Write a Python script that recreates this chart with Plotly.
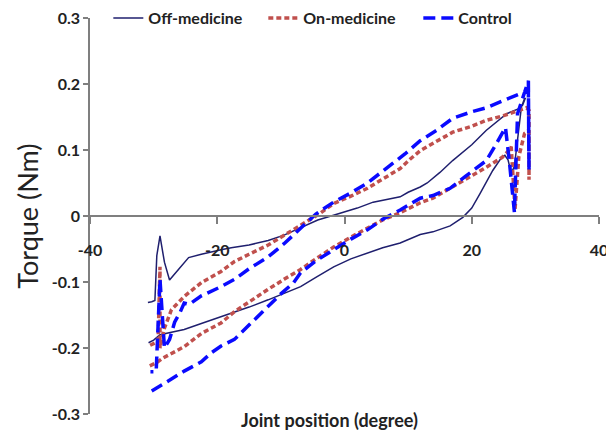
import plotly.graph_objects as go

# ---------------- data ----------------
off_x = [-30.8, -30.0, -29.0, -27.5, -25.2, -22.5, -20.0, -17.3, -15.0, -12.0, -9.5, -6.9, -4.5, -1.7, 1.0, 3.6,
         6.0, 8.75, 11.9, 13.9, 16.6, 18.6, 20.0, 21.3, 23.3, 24.7, 25.2, 25.7, 26.2, 26.7, 27.3, 27.8, 28.3,
         28.4, 28.0, 27.5, 25.5, 24.0, 22.3, 20.0, 17.0, 15.0, 13.0, 11.9, 10.0, 8.75, 6.5, 4.5, 2.0, -0.6,
         -2.5, -4.2, -7.0, -9.5, -12.0, -15.0, -17.8, -19.4, -22.5, -24.5, -26.1, -27.5, -28.3, -29.0, -29.5,
         -29.8, -30.3, -30.9]
off_y = [-0.192, -0.188, -0.180, -0.177, -0.172, -0.163, -0.155, -0.146, -0.138, -0.127, -0.117, -0.107, -0.093,
         -0.077, -0.065, -0.056, -0.048, -0.041, -0.028, -0.024, -0.015, -0.002, 0.012, 0.034, 0.069, 0.089,
         0.092, 0.085, 0.065, 0.075, 0.120, 0.165, 0.178,
         0.178, 0.168, 0.163, 0.155, 0.143, 0.130, 0.108, 0.084, 0.066, 0.050, 0.044, 0.036, 0.029, 0.025,
         0.021, 0.012, 0.005, -0.001, -0.006, -0.018, -0.029, -0.037, -0.044, -0.048, -0.051, -0.058, -0.063,
         -0.081, -0.097, -0.070, -0.030, -0.060, -0.128, -0.130, -0.131]

on_x = [-30.6, -29.5, -28.5, -26.7, -25.2, -22.5, -19.4, -17.3, -15.0, -12.0, -9.5, -6.9, -4.5, -1.7, 1.0, 3.6,
        6.0, 8.75, 11.9, 13.9, 17.0, 20.0, 22.3, 24.8, 25.9, 26.2, 26.8, 27.4, 28.3, 29.0, 29.0, 29.0,
        28.6, 27.5, 25.0, 22.3, 20.0, 17.0, 14.0, 11.9, 10.3, 8.75, 6.0, 3.6, 1.0, -1.7, -4.0, -6.9, -9.5,
        -12.0, -15.0, -17.3, -19.4, -22.5, -25.2, -27.2, -28.3, -29.0, -29.0, -29.3, -30.8]
on_y = [-0.227, -0.222, -0.215, -0.205, -0.198, -0.178, -0.162, -0.145, -0.130, -0.111, -0.096, -0.081, -0.065,
        -0.047, -0.032, -0.018, -0.006, 0.005, 0.020, 0.027, 0.044, 0.060, 0.074, 0.089, 0.100, 0.105, 0.010,
        0.090, 0.125, 0.130, 0.055, 0.160,
        0.164, 0.160, 0.152, 0.145, 0.136, 0.127, 0.110, 0.099, 0.086, 0.072, 0.056, 0.042, 0.030, 0.019,
        0.003, -0.014, -0.030, -0.044, -0.058, -0.069, -0.084, -0.101, -0.122, -0.142, -0.170, -0.200,
        -0.077, -0.190, -0.197]

ctl_x = [-30.3, -29.0, -27.7, -25.2, -22.5, -20.9, -19.4, -17.3, -15.0, -12.0, -10.0, -8.0, -6.9, -4.5, -1.7,
         1.0, 3.6, 6.0, 8.75, 11.9, 13.9, 16.6, 19.0, 22.3, 23.9, 25.3, 25.9, 26.7, 27.2, 28.9, 29.0, 28.9,
         27.5, 25.0, 22.3, 20.0, 17.0, 14.5, 11.9, 9.5, 7.2, 3.6, 1.0, -1.7, -4.5, -6.9, -9.5, -12.0, -15.0,
         -17.3, -19.4, -22.5, -24.4, -25.2, -25.8, -26.7, -27.5, -28.3, -29.0, -29.6, -30.5]
ctl_y = [-0.265, -0.258, -0.250, -0.235, -0.221, -0.207, -0.197, -0.187, -0.165, -0.137, -0.118, -0.101, -0.086,
         -0.068, -0.051, -0.035, -0.021, -0.005, 0.009, 0.027, 0.031, 0.042, 0.060, 0.084, 0.110, 0.134, 0.084,
         0.006, 0.155, 0.205, 0.070, 0.190,
         0.185, 0.175, 0.164, 0.158, 0.148, 0.130, 0.114, 0.094, 0.077, 0.050, 0.035, 0.021, 0.003, -0.018,
         -0.042, -0.062, -0.080, -0.096, -0.107, -0.121, -0.134, -0.132, -0.145, -0.161, -0.187, -0.200,
         -0.096, -0.236, -0.236]

series_names = ["Off-medicine", "On-medicine", "Control"]
x_ticks = [-40, -20, 0, 20, 40]
x_tick_text = ["-40", "-20", "0", "20", "40"]
y_ticks = [-0.3, -0.2, -0.1, 0, 0.1, 0.2, 0.3]
y_tick_text = ["-0.3", "-0.2", "-0.1", "0", "0.1", "0.2", "0.3"]

FONT = "Lato, 'Open Sans', sans-serif"
AXIS_COLOR = "#7f7f7f"

fig = go.Figure()
fig.add_trace(go.Scatter(x=off_x, y=off_y, mode="lines", name=series_names[0],
                         line=dict(color="#1f1f6e", width=1.5)))
fig.add_trace(go.Scatter(x=on_x, y=on_y, mode="lines", name=series_names[1],
                         line=dict(color="#c0504d", width=3.5, dash="5px,3px")))
fig.add_trace(go.Scatter(x=ctl_x, y=ctl_y, mode="lines", name=series_names[2],
                         line=dict(color="#0a0aff", width=3.5, dash="12px,6px")))

# the page body adds an 8px offset, so the figure is 8px smaller and margins shifted
fig.update_layout(
    width=606, height=430,
    margin=dict(l=82, r=15, t=10, b=24, autoexpand=False),
    paper_bgcolor="white", plot_bgcolor="white",
    font=dict(family=FONT, color="#222222", size=14),
    showlegend=True,
    legend=dict(orientation="h", x=0.036, y=1.0, xanchor="left", yanchor="middle",
                font=dict(family=FONT, size=16, weight="bold", color="#222222"),
                bgcolor="rgba(0,0,0,0)", itemwidth=30, entrywidth=110, tracegroupgap=0),
    xaxis=dict(range=[-40, 40], tickvals=x_ticks, ticktext=x_tick_text,
               showgrid=False, zeroline=False, showline=True, linecolor=AXIS_COLOR, linewidth=1.5,
               ticks="outside", ticklen=7, tickcolor=AXIS_COLOR, tickwidth=1.5,
               anchor="free", position=0.5, ticklabelstandoff=13, ticklabeloverflow="allow",
               tickfont=dict(family=FONT, size=16, weight="bold", color="#222222")),
    yaxis=dict(range=[-0.3, 0.3], tickvals=y_ticks, ticktext=y_tick_text,
               showgrid=False, zeroline=False, showline=True, linecolor=AXIS_COLOR, linewidth=1.5,
               ticks="outside", ticklen=5, tickcolor=AXIS_COLOR, tickwidth=1.5,
               ticklabeloverflow="allow",
               tickfont=dict(family=FONT, size=16, weight="bold", color="#222222")),
    annotations=[
        dict(text="Joint position (degree)", xref="paper", yref="paper", x=0.4715, y=-0.015,
             xanchor="center", yanchor="middle", showarrow=False,
             font=dict(family=FONT, size=18, weight="bold", color="#222222")),
        dict(text="Torque (Nm)", xref="paper", yref="paper", x=-0.1245, y=0.5, textangle=-90,
             xanchor="center", yanchor="middle", showarrow=False,
             font=dict(family=FONT, size=27, color="#222222")),
    ],
)

fig.write_html("out.html")
